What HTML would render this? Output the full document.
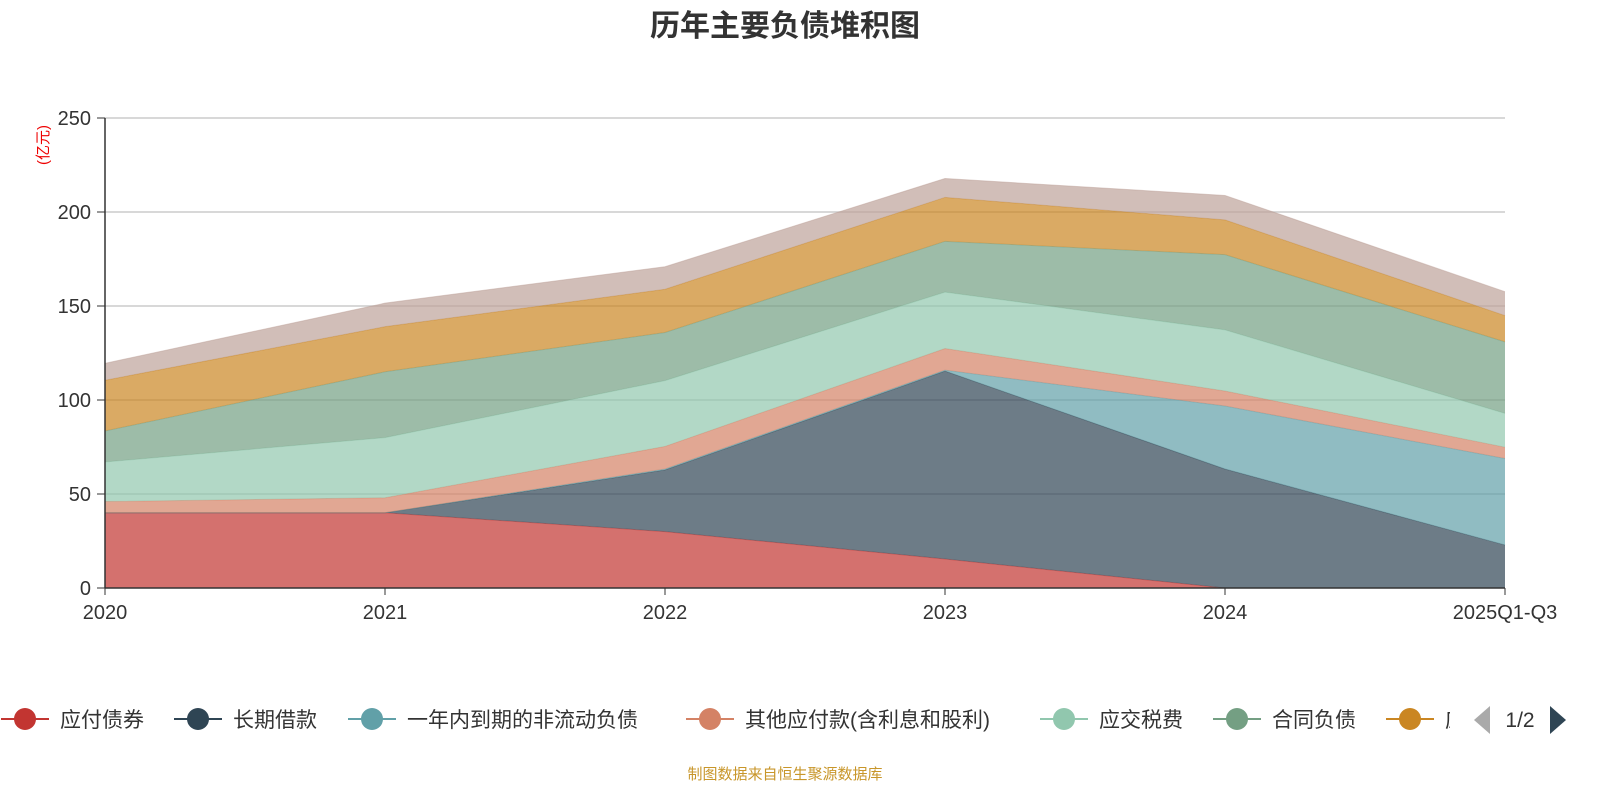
<!DOCTYPE html>
<html><head><meta charset="utf-8">
<style>
html,body{margin:0;padding:0;background:#fff;width:1600px;height:800px;overflow:hidden}
text{font-family:"Liberation Sans","Noto Sans CJK SC",sans-serif}
</style></head>
<body>
<svg id="chart" width="1600" height="800" xmlns="http://www.w3.org/2000/svg">
<text x="785" y="36" text-anchor="middle" font-size="30" font-weight="bold" fill="#333">历年主要负债堆积图</text>
<text transform="translate(48,145) rotate(-90)" text-anchor="middle" font-size="15" fill="#e00">(亿元)</text>
<g id="grid"></g>
<g id="areas"></g>
<g id="axes"></g>
<g id="legend"></g>
<text x="785" y="779" text-anchor="middle" font-size="15" fill="#c8962a">制图数据来自恒生聚源数据库</text>
</svg>
<script>
const categories=["2020","2021","2022","2023","2024","2025Q1-Q3"];
const seriesNames=["应付债券","长期借款","一年内到期的非流动负债","其他应付款(含利息和股利)","应交税费","合同负债","应","系列8","系列9"];
const sBonds=[40,40,30,15.4,0,0];
const sLongLoans=[0,0,32.8,100,63.3,22.9];
const sCurrentDue=[0,0,0.5,0.5,33.5,46];
const sOtherPay=[6,8,12,11.5,8,6];
const sTax=[21,32,35,30,32.5,18];
const sContract=[16.5,35,25.6,27,40,38];
const sOrange=[27,24,23,23.4,18.5,14];
const sTop=[9,12.5,12,10,13,12.7];
const yTicks=[0,50,100,150,200,250];
const series=[sBonds,sLongLoans,sCurrentDue,sOtherPay,sTax,sContract,sOrange,sTop];
const colors=["#c23531","#2f4554","#61a0a8","#d48265","#91c7ae","#749f83","#ca8622","#bda29a"];
const X0=105,X1=1505,Y0=588,Y1=118,YMAX=250;
const xs=i=>X0+(X1-X0)*i/(categories.length-1);
const ys=v=>Y0-(Y0-Y1)*v/YMAX;
const NS="http://www.w3.org/2000/svg";
function mk(tag,attrs,parent){const e=document.createElementNS(NS,tag);for(const k in attrs)e.setAttribute(k,attrs[k]);parent.appendChild(e);return e;}
const grid=document.getElementById('grid'),axes=document.getElementById('axes'),areas=document.getElementById('areas'),leg=document.getElementById('legend');
yTicks.forEach(t=>{
  if(t>0){const l=mk('line',{x1:X0,x2:X1,y1:ys(t),y2:ys(t),stroke:'#ccc','stroke-width':1.5},grid);
  
  }
  const tk=mk('line',{x1:X0-8,x2:X0,y1:ys(t),y2:ys(t),stroke:'#333'},axes);
  
  
  const tx=mk('text',{x:X0-14,y:ys(t)+7,'text-anchor':'end','font-size':20,fill:'#333'},axes);tx.textContent=t;
  
  
});
let cum=categories.map(()=>0);
series.forEach((s,si)=>{
  const lower=cum.slice();const upper=cum.map((c,i)=>c+s[i]);
  let d='';upper.forEach((v,i)=>{d+=(i?'L':'M')+xs(i)+','+ys(v);});
  for(let i=lower.length-1;i>=0;i--)d+='L'+xs(i)+','+ys(lower[i]);
  const p=mk('path',{d:d+'Z',fill:colors[si],'fill-opacity':0.7,stroke:'none'},areas);
  
  
  let ld='';upper.forEach((v,i)=>{ld+=(i?'L':'M')+xs(i)+','+ys(v);});
  const ln=mk('path',{d:ld,fill:'none',stroke:colors[si],'stroke-opacity':0.5,'stroke-width':1},areas);
  
  
  cum=upper;
});
const ya=mk('line',{x1:X0,x2:X0,y1:Y1,y2:Y0,stroke:'#333','stroke-width':1.5},axes);


const xa=mk('line',{x1:X0,x2:X1,y1:Y0,y2:Y0,stroke:'#333','stroke-width':1.5},axes);


categories.forEach((c,i)=>{
  const tk=mk('line',{x1:xs(i),x2:xs(i),y1:Y0,y2:Y0+7,stroke:'#333'},axes);
  
  
  const t=mk('text',{x:xs(i),y:Y0+31,'text-anchor':'middle','font-size':20,fill:'#333'},axes);t.textContent=c;
  
  
});
const legX=[25,198,372,710,1064,1237,1410];
for(let i=0;i<7;i++){
  const g=mk('g',{},leg);
  
  
  mk('line',{x1:legX[i]-24,x2:legX[i]+24,y1:719,y2:719,stroke:colors[i],'stroke-width':2},g);
  mk('circle',{cx:legX[i],cy:719,r:11,fill:colors[i]},g);
  const t=mk('text',{x:legX[i]+35,y:727,'font-size':21,fill:'#333'},g);t.textContent=seriesNames[i];
}
const cl=mk('rect',{x:1450,y:690,width:150,height:60,fill:'#fff'},leg);


const pv=mk('path',{d:'M1490,706L1474,720L1490,734Z',fill:'#aaa'},leg);


const pt=mk('text',{x:1520,y:727,'text-anchor':'middle','font-size':21,fill:'#333'},leg);pt.textContent='1/2';


const nx=mk('path',{d:'M1550,706L1566,720L1550,734Z',fill:'#2f4554'},leg);


</script>
</body></html>
